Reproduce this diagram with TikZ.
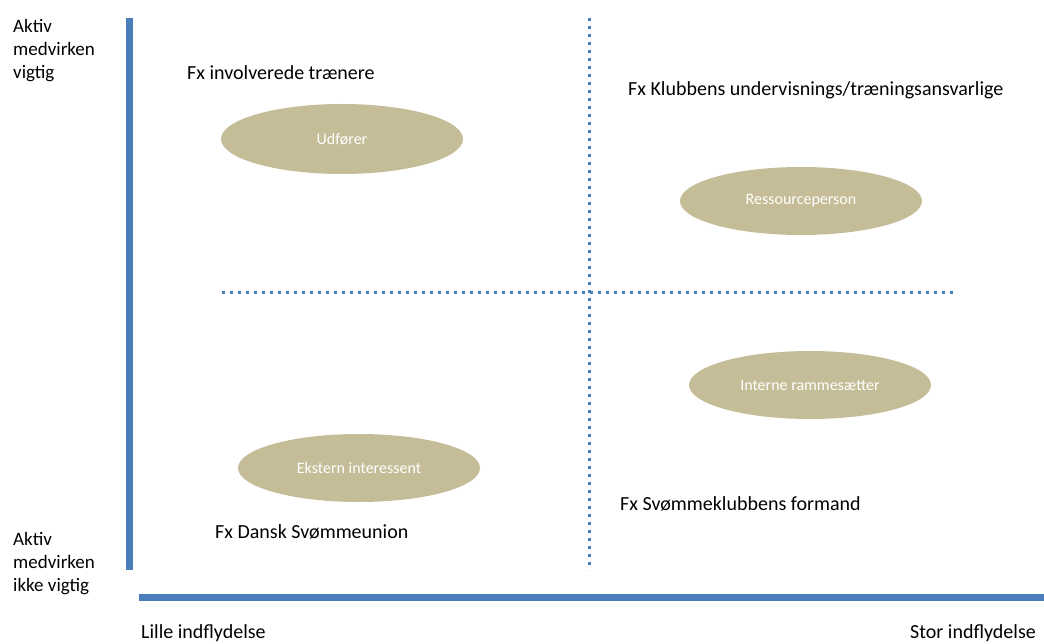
\documentclass[tikz,border=0pt]{standalone}
\usepackage{fontspec}
\setmainfont{Carlito}
\usetikzlibrary{shapes.geometric}
\definecolor{axisblue}{HTML}{4A7EBB}
\definecolor{dotblue}{HTML}{4A7EBB}
\definecolor{olive}{HTML}{C4BD97}
\tikzset{
  axis/.style={line width=7pt, draw=axisblue},
  divider/.style={line width=3pt, draw=dotblue, dash pattern=on 3pt off 5pt},
  role/.style={ellipse, fill=olive, minimum width=242pt, minimum height=68pt, inner sep=0pt,
     text=white, font=\fontsize{16}{19}\selectfont},
  lbl/.style={font=\fontsize{20}{24}\selectfont, inner sep=0pt, anchor=west},
  side/.style={font=\fontsize{19}{23}\selectfont, inner sep=0pt, align=left, anchor=north west},
}
\begin{document}
\begin{tikzpicture}[x=1pt,y=-1pt]
\useasboundingbox (0,0) rectangle (1044,644);
% axes
\coordinate (vtop) at (129.5,18);
\coordinate (vbot) at (129.5,570);
\coordinate (hl) at (139,597.5);
\coordinate (hr) at (1044,597.5);
\draw[axis] (vtop) -- (vbot);
\draw[axis] (hl) -- (hr);
% dividers
\coordinate (dtop) at (589,18);
\coordinate (dbot) at (589,570);
\coordinate (dl) at (222,293);
\coordinate (dr) at (955,293);
\draw[divider] (dtop) -- (dbot);
\draw[divider] (dl) -- (dr);
% ellipses
\node[role, minimum height=70pt] (udf) at (342,139) {Udfører};
\node[role] (res) at (801,201) {Ressourceperson};
\node[role] (int) at (810,385) {Interne rammesætter};
\node[role] (eks) at (359,468) {Ekstern interessent};
% labels
\node[lbl] (l1) at (187,73) {Fx involverede trænere};
\node[lbl] (l2) at (628,90) {Fx Klubbens undervisnings/træningsansvarlige};
\node[lbl] (l3) at (620,504) {Fx Svømmeklubbens formand};
\node[lbl] (l4) at (215,532) {Fx Dansk Svømmeunion};
% side texts
\node[side] (s1) at (13,19) {Aktiv\\medvirken\\vigtig};
\node[side] (s2) at (13,532) {Aktiv\\medvirken\\ikke vigtig};
\node[font=\fontsize{20}{24}\selectfont, inner sep=0pt, anchor=west] (b1) at (141,633) {Lille indflydelse};
\node[font=\fontsize{20}{24}\selectfont, inner sep=0pt, anchor=east] (b2) at (1036,633) {Stor indflydelse};
\end{tikzpicture}
\end{document}
